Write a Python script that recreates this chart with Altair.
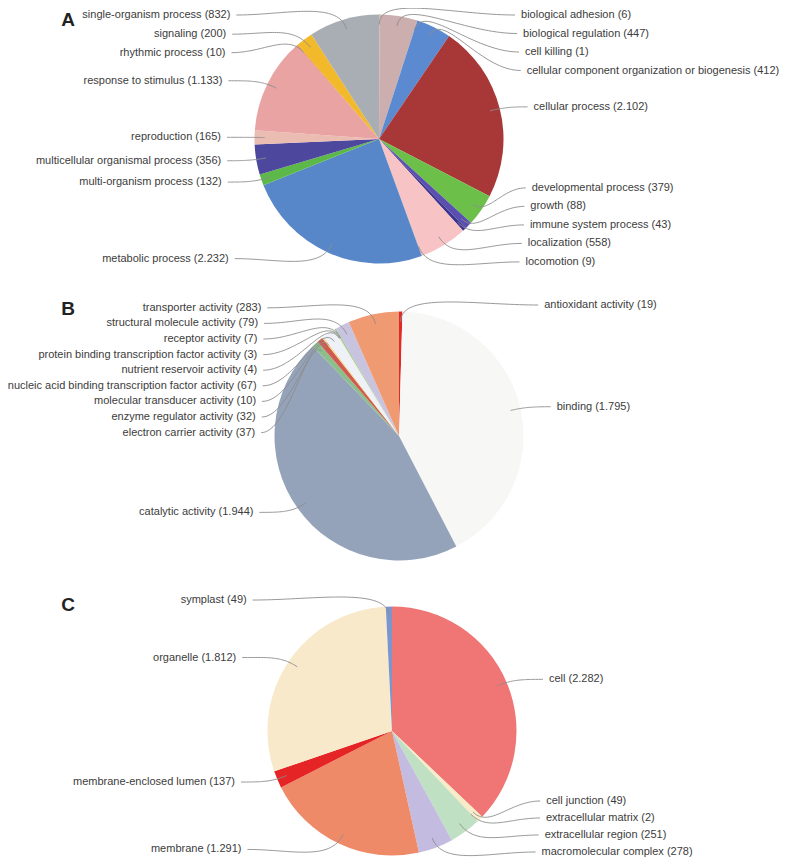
import math
import altair as alt
import pandas as pd

# ---------------- data ----------------
bp_names = ["biological adhesion", "biological regulation", "cell killing",
            "cellular component organization or biogenesis", "cellular process",
            "developmental process", "growth", "immune system process", "localization",
            "locomotion", "metabolic process", "multi-organism process",
            "multicellular organismal process", "reproduction", "response to stimulus",
            "rhythmic process", "signaling", "single-organism process"]
bp_values = [6, 447, 1, 412, 2102, 379, 88, 43, 558, 9, 2232, 132, 356, 165, 1133, 10, 200, 832]

mf_names = ["antioxidant activity", "binding", "catalytic activity", "electron carrier activity",
            "enzyme regulator activity", "molecular transducer activity",
            "nucleic acid binding transcription factor activity", "nutrient reservoir activity",
            "protein binding transcription factor activity", "receptor activity",
            "structural molecule activity", "transporter activity"]
mf_values = [19, 1795, 1944, 37, 32, 10, 67, 4, 3, 7, 79, 283]

cc_names = ["cell", "cell junction", "extracellular matrix", "extracellular region",
            "macromolecular complex", "membrane", "membrane-enclosed lumen", "organelle", "symplast"]
cc_values = [2282, 49, 2, 251, 278, 1291, 137, 1812, 49]

panel_letters = ["A", "B", "C"]

# ---------------- styles ----------------
bp_colors = ["#9fa6ad", "#cdaeae", "#7a7a7a", "#5b8ad0", "#a83838", "#6cc04a", "#5a4fb0",
             "#3d3590", "#f7c3c5", "#e0b0b0", "#5787c8", "#5cb848", "#4e479e", "#ebbcb2",
             "#eaa3a3", "#e07a3a", "#f2b92a", "#a9aeb4"]
mf_colors = ["#e02a2a", "#f7f7f5", "#94a3ba", "#8cbf8c", "#d05a50", "#f0d890", "#eef2f8",
             "#f5e6b0", "#c0d8b0", "#8fbf8f", "#c8c4e0", "#f09a72"]
cc_colors = ["#f07575", "#f8ecc8", "#e8d8b0", "#bfe0c2", "#c3bbe0", "#ee8a68", "#e52525",
             "#f7e9c9", "#7a96cc"]

W, H = 771, 851
R = 124.5
RL = 131.0      # label radius
RA = 114.5      # leader anchor radius
FONT = "Liberation Sans"
TEXT_COLOR = "#3c3c3c"
LINE_COLOR = "#8c8c8c"

pies = [
    dict(names=bp_names, values=bp_values, colors=bp_colors, cx=371, cy=131, gap=18.5,
         base_r=142, base_l=145, ly_letter=18),
    dict(names=mf_names, values=mf_values, colors=mf_colors, cx=391, cy=428, gap=15.6,
         base_r=145, base_l=135, ly_letter=307),
    dict(names=cc_names, values=cc_values, colors=cc_colors, cx=384, cy=723, gap=17.0,
         base_r=145, base_l=145, ly_letter=603),
]


def fmt(v):
    return f"{v:,}".replace(",", ".")


def layout(p):
    names, values, cx, cy, gap = p["names"], p["values"], p["cx"], p["cy"], p["gap"]
    total = sum(values)
    cum = 0
    rows = []
    for n, v in zip(names, values):
        a0 = cum / total * 2 * math.pi
        cum += v
        a1 = cum / total * 2 * math.pi
        m = (a0 + a1) / 2
        rows.append(dict(name=n, value=v, mid=m,
                         ny=cy - RL * math.cos(m),
                         ax=cx + RA * math.sin(m), ay=cy - RA * math.cos(m)))
    for side in ([r for r in rows if r["mid"] < math.pi], [r for r in rows if r["mid"] >= math.pi]):
        upper = sorted([r for r in side if r["ny"] <= cy], key=lambda r: r["ny"])
        lower = sorted([r for r in side if r["ny"] > cy], key=lambda r: -r["ny"])
        prev = None
        for r in upper:
            r["ly"] = max(r["ny"], 7.0) if prev is None else max(r["ny"], prev + gap)
            prev = r["ly"]
        prev = None
        for r in lower:
            r["ly"] = min(r["ny"], H - 7) if prev is None else min(r["ny"], prev - gap)
            prev = r["ly"]
    for r in rows:
        r["right"] = r["mid"] < math.pi
        base = p["base_r"] if r["right"] else p["base_l"]
        off = base + 13 * abs(math.sin(r["mid"]))
        r["lx"] = cx + off if r["right"] else cx - off
        r["label"] = f"{r['name']} ({fmt(r['value'])})"
    return rows


label_rows = []
line_rows = []
for pi_, p in enumerate(pies):
    rows = layout(p)
    for j, r in enumerate(rows):
        label_rows.append(dict(x=r["lx"], y=r["ly"], label=r["label"],
                               side="right" if r["right"] else "left"))
        x0 = r["lx"] - 6 if r["right"] else r["lx"] + 6
        y0 = r["ly"]
        ax, ay = r["ax"], r["ay"]
        dx = ax - x0
        k = min(0.35 * abs(dx), 30)
        p1 = (x0 + 0.45 * dx, y0)
        p2 = (ax + math.sin(r["mid"]) * k, ay - math.cos(r["mid"]) * k)
        n = 40
        for t_i in range(n + 1):
            t = t_i / n
            u = 1 - t
            bx = u**3 * x0 + 3 * u * u * t * p1[0] + 3 * u * t * t * p2[0] + t**3 * ax
            by = u**3 * y0 + 3 * u * u * t * p1[1] + 3 * u * t * t * p2[1] + t**3 * ay
            line_rows.append(dict(key=f"{pi_}-{j}", ord=t_i, x=bx, y=by))

labels_df = pd.DataFrame(label_rows)
lines_df = pd.DataFrame(line_rows)
letters_df = pd.DataFrame(dict(letter=panel_letters, x=[60] * 3,
                               y=[p["ly_letter"] for p in pies]))

layers = []
for p in pies:
    df = pd.DataFrame(dict(name=p["names"], value=p["values"], idx=list(range(len(p["names"])))))
    arc = alt.Chart(df).mark_arc(radius=R, strokeWidth=0).encode(
        theta=alt.Theta("value:Q", stack=True),
        order=alt.Order("idx:Q", sort="ascending"),
        color=alt.Color("name:N", scale=alt.Scale(domain=p["names"], range=p["colors"]), legend=None),
        x=alt.value(p["cx"]),
        y=alt.value(p["cy"]),
    )
    layers.append(arc)

lines = alt.Chart(lines_df).mark_line(color=LINE_COLOR, strokeWidth=0.9, interpolate="linear").encode(
    x=alt.X("x:Q", scale=None, axis=None),
    y=alt.Y("y:Q", scale=None, axis=None),
    detail="key:N",
    order="ord:Q",
)

text_right = alt.Chart(labels_df[labels_df.side == "right"]).mark_text(
    align="left", baseline="middle", font=FONT, fontSize=11, color=TEXT_COLOR
).encode(x=alt.X("x:Q", scale=None, axis=None), y=alt.Y("y:Q", scale=None, axis=None), text="label:N")

text_left = alt.Chart(labels_df[labels_df.side == "left"]).mark_text(
    align="right", baseline="middle", font=FONT, fontSize=11, color=TEXT_COLOR
).encode(x=alt.X("x:Q", scale=None, axis=None), y=alt.Y("y:Q", scale=None, axis=None), text="label:N")

letters = alt.Chart(letters_df).mark_text(
    align="center", baseline="alphabetic", font=FONT, fontSize=19, fontWeight="bold", color="#222222"
).encode(x=alt.X("x:Q", scale=None, axis=None), y=alt.Y("y:Q", scale=None, axis=None), text="letter:N")

chart = alt.layer(*layers, lines, text_right, text_left, letters).resolve_scale(
    theta="independent", color="independent"
).properties(
    width=W, height=H, padding=0, autosize=alt.AutoSizeParams(type="none")
).configure_view(stroke=None)

chart.save("out.html", embed_options={"renderer": "svg", "actions": False})
